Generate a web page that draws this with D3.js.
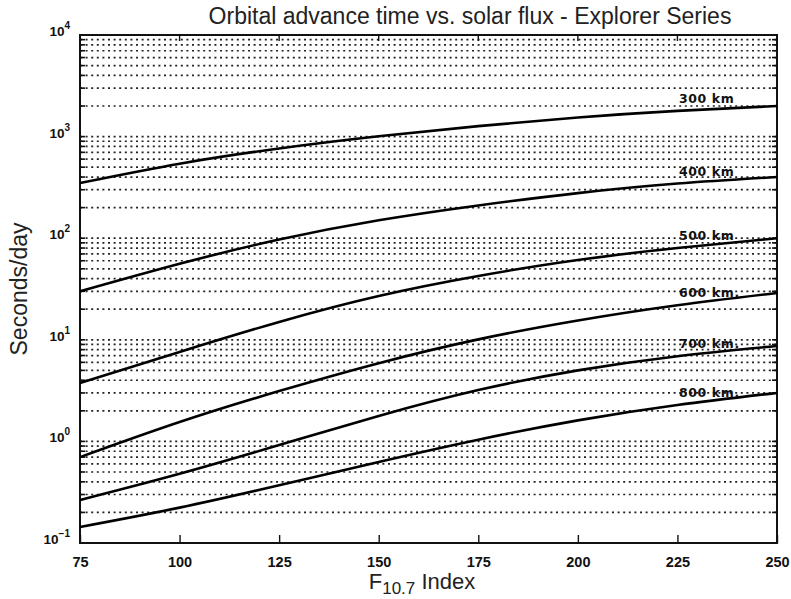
<!DOCTYPE html>
<html><head><meta charset="utf-8">
<script src="https://cdn.jsdelivr.net/npm/d3@7"></script>
<style>body{margin:0;background:#fff}svg{display:block}</style>
</head><body>
<script>
const fluxIndex = [75, 100, 125, 150, 175, 200, 225, 250];
const altitudes = ["300 km", "400 km", "500 km", "600 km.", "700 km.", "800 km."];
const sec300 = [349, 541, 764, 1007, 1268, 1542, 1791, 2000];
const sec400 = [30, 56, 97, 150, 210, 278, 345, 400];
const sec500 = [3.76, 7.6, 15, 27, 42.5, 61, 80, 100];
const sec600 = [0.70, 1.55, 3.13, 5.89, 10.1, 15.5, 21.9, 28.9];
const sec700 = [0.265, 0.48, 0.92, 1.78, 3.2, 5.0, 6.9, 8.7];
const sec800 = [0.144, 0.223, 0.37, 0.628, 1.04, 1.61, 2.28, 3.0];
const seriesValues = [sec300, sec400, sec500, sec600, sec700, sec800];
const xTicks = [75, 100, 125, 150, 175, 200, 225, 250];
const yExponents = [4, 3, 2, 1, 0, -1];
const yExpLabels = ["4", "3", "2", "1", "0", "\u22121"];

const W = 791, H = 599;
const m = {left: 80, right: 14, top: 35, bottom: 56};
const svg = d3.select("body").append("svg").attr("width", W).attr("height", H);
const x = d3.scaleLinear().domain([75, 250]).range([m.left, W - m.right]);
const y = d3.scaleLog().domain([0.1, 10000]).range([H - m.bottom, m.top]);

const gridVals = [];
for (let e = -1; e <= 3; e++) {
  for (let k = 1; k <= 9; k++) {
    const v = k * Math.pow(10, e);
    if (v > 0.1 && v < 10000) gridVals.push(v);
  }
}
svg.append("g").selectAll("line").data(gridVals).join("line")
  .attr("x1", x(75)).attr("x2", x(250))
  .attr("y1", d => y(d)).attr("y2", d => y(d))
  .attr("stroke", "#222").attr("stroke-width", 1.7)
  .attr("stroke-dasharray", "2,3.6");

svg.append("g").selectAll("line").data(gridVals).join("line")
  .attr("x1", x(75)).attr("x2", x(75) + 5)
  .attr("y1", d => y(d)).attr("y2", d => y(d))
  .attr("stroke", "#111").attr("stroke-width", 1.6);
svg.append("g").selectAll("line").data(gridVals).join("line")
  .attr("x1", x(250) - 5).attr("x2", x(250))
  .attr("y1", d => y(d)).attr("y2", d => y(d))
  .attr("stroke", "#111").attr("stroke-width", 1.6);

const xAxis = d3.axisBottom(x).tickValues(xTicks).tickSize(-8).tickPadding(14).tickFormat(d3.format("d"));
const gx = svg.append("g").attr("transform", `translate(0,${y(0.1)})`).call(xAxis);
gx.select(".domain").remove();
gx.selectAll("line").attr("stroke", "#111").attr("stroke-width", 1.4);
gx.selectAll("text").attr("font-family", "Liberation Sans, Arial, sans-serif").attr("font-weight", "bold")
  .attr("font-size", 14.5).attr("fill", "#111");
svg.append("g").selectAll("line").data(xTicks.slice(1, -1)).join("line")
  .attr("x1", d => x(d)).attr("x2", d => x(d))
  .attr("y1", y(10000)).attr("y2", y(10000) + 6)
  .attr("stroke", "#111").attr("stroke-width", 1.4);

svg.append("rect").attr("x", x(75)).attr("y", y(10000))
  .attr("width", x(250) - x(75)).attr("height", y(0.1) - y(10000))
  .attr("fill", "none").attr("stroke", "#111").attr("stroke-width", 2);

const yl = svg.append("g").selectAll("text").data(yExponents).join("text")
  .attr("x", 70).attr("y", d => y(Math.pow(10, d)) + 1)
  .attr("text-anchor", "end")
  .attr("font-family", "Liberation Sans, Arial, sans-serif").attr("font-weight", "bold")
  .attr("font-size", 13.5).attr("fill", "#111");
yl.append("tspan").text("10");
yl.append("tspan").attr("dy", -7).attr("font-size", 10).text((d, i) => yExpLabels[i]);

const line = d3.line().x((d, i) => x(fluxIndex[i])).y(d => y(d)).curve(d3.curveNatural);
svg.append("g").selectAll("path").data(seriesValues).join("path")
  .attr("d", d => line(d)).attr("fill", "none")
  .attr("stroke", "#000").attr("stroke-width", 2.6);

svg.append("g").selectAll("text").data(altitudes).join("text")
  .attr("x", 679)
  .attr("y", (d, i) => y(seriesValues[i][6]) - 8)
  .attr("font-family", "DejaVu Sans, sans-serif").attr("font-weight", "bold")
  .attr("font-size", 12.5).attr("letter-spacing", 0.6).attr("fill", "#111")
  .text(d => d);

svg.append("text").attr("x", 470).attr("y", 24).attr("text-anchor", "middle")
  .attr("font-family", "Liberation Sans, Arial, sans-serif").attr("font-size", 23).attr("fill", "#222")
  .text("Orbital advance time vs. solar flux - Explorer Series");

svg.append("text").attr("transform", `translate(27,${(y(10000) + y(0.1)) / 2}) rotate(-90)`)
  .attr("text-anchor", "middle")
  .attr("font-family", "Liberation Sans, Arial, sans-serif").attr("font-size", 23).attr("fill", "#222")
  .text("Seconds/day");

const xt = svg.append("text").attr("x", 422).attr("y", 589).attr("text-anchor", "middle")
  .attr("font-family", "Liberation Sans, Arial, sans-serif").attr("font-size", 22).attr("fill", "#222");
xt.append("tspan").text("F");
xt.append("tspan").attr("dy", 5).attr("font-size", 17).text("10.7");
xt.append("tspan").attr("dy", -5).text(" Index");
</script>
</body></html>
